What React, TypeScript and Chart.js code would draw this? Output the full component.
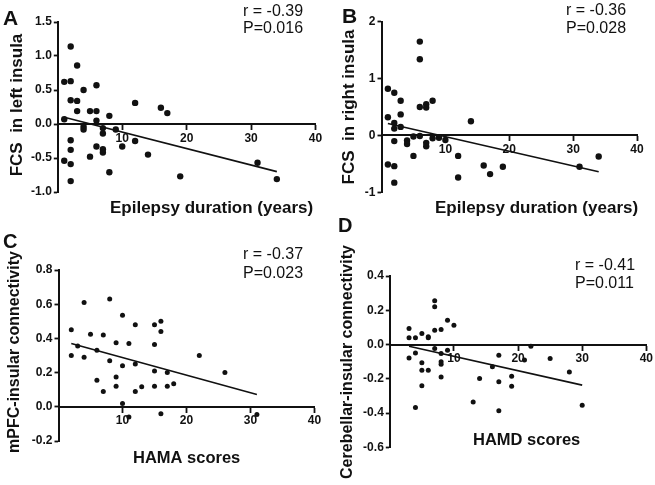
import React, { useEffect, useRef } from "react";
import { Chart, registerables } from "chart.js";

Chart.register(...registerables);

const FONT = "'Liberation Sans', Arial, Helvetica, sans-serif";
const INK = "#111111";

// ---------- Panel A: epilepsy duration vs FCS in left insula ----------
const aDuration = [1, 2, 2, 3, 1, 2, 3, 3, 4, 6, 5, 6, 6, 8, 4, 4, 7, 7, 9, 2, 2, 6, 7, 7, 10, 12, 12, 16, 17, 14, 5, 1, 2, 2, 8, 19, 31, 34];
const aFcsLeft = [0.62, 1.14, 0.63, 0.86, 0.07, 0.35, 0.34, 0.19, 0.5, 0.57, 0.19, 0.19, 0.05, 0.12, -0.04, -0.08, -0.06, -0.14, -0.08, -0.24, -0.38, -0.33, -0.37, -0.42, -0.33, -0.25, 0.31, 0.24, 0.16, -0.45, -0.48, -0.54, -0.59, -0.84, -0.71, -0.77, -0.57, -0.81];
const aFitX = [1, 34];
const aFitY = [0.1, -0.7];

// ---------- Panel B: epilepsy duration vs FCS in right insula ----------
const bDuration = [1, 1, 1, 2, 2, 2, 2, 2, 2, 3, 3, 3, 4, 4, 5, 5, 6, 6, 6, 6, 7, 7, 7, 7, 8, 8, 9, 10, 12, 12, 14, 16, 17, 19, 31, 34];
const bFcsRight = [0.82, 0.32, -0.51, 0.75, 0.22, 0.12, -0.1, -0.54, -0.83, 0.61, 0.37, 0.15, -0.09, -0.15, -0.02, -0.36, 1.65, 1.34, 0.5, -0.01, 0.55, 0.49, -0.13, -0.19, 0.61, -0.05, -0.04, -0.08, -0.36, -0.74, 0.25, -0.53, -0.68, -0.55, -0.55, -0.37];
const bFitX = [1, 34];
const bFitY = [0.21, -0.64];

// ---------- Panel C: HAMA scores vs mPFC-insular connectivity ----------
const cHama = [2, 2, 3, 4, 4, 5, 6, 6, 7, 7, 8, 8, 9, 9, 9, 10, 10, 10, 11, 11, 12, 12, 12, 13, 15, 15, 15, 15, 16, 16, 16, 17, 17, 18, 22, 26, 31];
const cMpfc = [0.45, 0.3, 0.355, 0.61, 0.29, 0.425, 0.33, 0.155, 0.42, 0.09, 0.63, 0.27, 0.375, 0.175, 0.12, 0.535, 0.24, 0.02, 0.37, -0.06, 0.48, 0.25, 0.09, 0.117, 0.48, 0.365, 0.21, 0.12, 0.5, 0.44, -0.04, 0.2, 0.12, 0.135, 0.3, 0.2, -0.045];
const cFitX = [2, 31];
const cFitY = [0.37, 0.072];

// ---------- Panel D: HAMD scores vs cerebellar-insular connectivity ----------
const dHamd = [3, 3, 3, 4, 4, 4, 5, 5, 5, 5, 6, 6, 6, 7, 7, 7, 7, 8, 8, 8, 8, 8, 9, 9, 10, 13, 14, 16, 17, 17, 17, 19, 19, 21, 22, 25, 28, 30];
const dCereb = [0.093, 0.039, -0.078, 0.039, -0.049, -0.368, 0.064, -0.107, -0.15, -0.241, 0.045, 0.039, -0.15, 0.255, 0.22, 0.084, -0.023, 0.088, -0.053, -0.1, -0.115, -0.19, 0.142, -0.033, 0.113, -0.335, -0.198, -0.13, -0.062, -0.218, -0.387, -0.185, -0.243, -0.091, -0.01, -0.082, -0.16, -0.354];
const dFitX = [3, 30];
const dFitY = [-0.01, -0.237];

// ---------- Tick values ----------
const xTickValues = [10, 20, 30, 40];
const aYTicks = [-1.0, -0.5, 0.0, 0.5, 1.0, 1.5];
const bYTicks = [-1, 0, 1, 2];
const cYTicks = [-0.2, 0.0, 0.2, 0.4, 0.6, 0.8];
const dYTicks = [-0.6, -0.4, -0.2, 0.0, 0.2, 0.4];

type TextItem = {
  text: string;
  x: number;
  y: number;
  size: number;
  bold?: boolean;
  align?: CanvasTextAlign;
  rotate?: number;
};

const panelTextPlugin = {
  id: "panelText",
  afterDraw(chart: any, _args: any, opts: any) {
    const ctx = chart.ctx as CanvasRenderingContext2D;
    const items: TextItem[] = opts.items || [];
    items.forEach((t) => {
      ctx.save();
      ctx.font = `${t.bold ? "bold" : "normal"} ${t.size}px ${FONT}`;
      ctx.fillStyle = INK;
      ctx.textAlign = t.align || "left";
      ctx.textBaseline = "middle";
      ctx.translate(t.x, t.y);
      if (t.rotate) ctx.rotate(t.rotate);
      ctx.fillText(t.text, 0, 0);
      ctx.restore();
    });
  },
};

type PanelSpec = {
  xs: number[];
  ys: number[];
  fitX: number[];
  fitY: number[];
  yTicks: number[];
  decimals: number;
  radius: number;
  padding: { left: number; right: number; top: number; bottom: number };
  texts: TextItem[];
};

const Y_BOX = 40;

function makeConfig(p: PanelSpec): any {
  const tickFont = { family: FONT, size: 12, weight: "bold" as const };
  return {
    type: "scatter",
    data: {
      datasets: [
        {
          type: "scatter",
          data: p.xs.map((x, i) => ({ x, y: p.ys[i] })),
          pointRadius: p.radius,
          pointHoverRadius: p.radius,
          backgroundColor: INK,
          borderColor: INK,
          borderWidth: 0,
        },
        {
          type: "line",
          data: p.fitX.map((x, i) => ({ x, y: p.fitY[i] })),
          borderColor: INK,
          borderWidth: 1.6,
          pointRadius: 0,
          fill: false,
          tension: 0,
        },
      ],
    },
    options: {
      animation: false,
      responsive: false,
      events: [],
      layout: { padding: p.padding },
      plugins: {
        legend: { display: false },
        tooltip: { enabled: false },
        panelText: { items: p.texts },
      },
      scales: {
        x: {
          type: "linear",
          position: { y: 0 },
          min: 0,
          max: 40,
          afterBuildTicks: (s: any) => {
            s.ticks = xTickValues.map((v) => ({ value: v }));
          },
          ticks: {
            font: tickFont,
            color: INK,
            padding: 2,
            maxRotation: 0,
            autoSkip: false,
            callback: (v: any) => String(v),
          },
          grid: {
            display: true,
            drawOnChartArea: false,
            drawTicks: true,
            tickLength: 5,
            tickWidth: 1.8,
            tickColor: INK,
          },
          border: { display: true, color: INK, width: 2 },
        },
        y: {
          type: "linear",
          position: "left",
          min: p.yTicks[0],
          max: p.yTicks[p.yTicks.length - 1],
          afterBuildTicks: (s: any) => {
            s.ticks = p.yTicks.map((v) => ({ value: v }));
          },
          afterFit: (s: any) => {
            s.width = Y_BOX;
          },
          ticks: {
            font: tickFont,
            color: INK,
            padding: 2,
            autoSkip: false,
            callback: (v: any) => Number(v).toFixed(p.decimals),
          },
          grid: {
            display: true,
            drawOnChartArea: false,
            drawTicks: true,
            tickLength: 4,
            tickWidth: 1.8,
            tickColor: INK,
          },
          border: { display: true, color: INK, width: 2 },
        },
      },
    },
    plugins: [panelTextPlugin],
  };
}

const W = 655;
const H = 485;
const ROT = -Math.PI / 2;

function area(left: number, right: number, top: number, bottom: number) {
  return { left: left - Y_BOX, right: W - right, top, bottom: H - bottom };
}

const panels: PanelSpec[] = [
  {
    xs: aDuration,
    ys: aFcsLeft,
    fitX: aFitX,
    fitY: aFitY,
    yTicks: aYTicks,
    decimals: 1,
    radius: 3.2,
    padding: area(57.8, 315.5, 22, 192),
    texts: [
      { text: "A", x: 3, y: 19.5, size: 21, bold: true },
      { text: "FCS  in left insula", x: 17.5, y: 105, size: 17, bold: true, align: "center", rotate: ROT },
      { text: "Epilepsy duration (years)", x: 110, y: 208, size: 17, bold: true },
      { text: "r = -0.39", x: 243, y: 12, size: 16 },
      { text: "P=0.016", x: 243, y: 29, size: 16 },
    ],
  },
  {
    xs: bDuration,
    ys: bFcsRight,
    fitX: bFitX,
    fitY: bFitY,
    yTicks: bYTicks,
    decimals: 0,
    radius: 3.2,
    padding: area(381.5, 637, 21.7, 192.3),
    texts: [
      { text: "B", x: 342, y: 17.5, size: 21, bold: true },
      { text: "FCS  in right insula", x: 349.5, y: 107, size: 17, bold: true, align: "center", rotate: ROT },
      { text: "Epilepsy duration (years)", x: 435, y: 208, size: 17, bold: true },
      { text: "r = -0.36", x: 566, y: 11, size: 16 },
      { text: "P=0.028", x: 566, y: 29, size: 16 },
    ],
  },
  {
    xs: cHama,
    ys: cMpfc,
    fitX: cFitX,
    fitY: cFitY,
    yTicks: cYTicks,
    decimals: 1,
    radius: 2.5,
    padding: area(58.5, 314.5, 270, 441),
    texts: [
      { text: "C", x: 3, y: 242.5, size: 20, bold: true },
      { text: "mPFC-insular connectivity", x: 15, y: 352, size: 16, bold: true, align: "center", rotate: ROT },
      { text: "HAMA scores", x: 133, y: 458, size: 16.5, bold: true },
      { text: "r = -0.37", x: 243, y: 255, size: 16 },
      { text: "P=0.023", x: 243, y: 274, size: 16 },
    ],
  },
  {
    xs: dHamd,
    ys: dCereb,
    fitX: dFitX,
    fitY: dFitY,
    yTicks: dYTicks,
    decimals: 1,
    radius: 2.5,
    padding: area(389.8, 646.7, 276, 447.3),
    texts: [
      { text: "D", x: 338, y: 226.5, size: 20, bold: true },
      { text: "Cerebellar-insular connectivity", x: 348, y: 362, size: 16, bold: true, align: "center", rotate: ROT },
      { text: "HAMD scores", x: 473, y: 440, size: 16.5, bold: true },
      { text: "r = -0.41", x: 575, y: 266, size: 16 },
      { text: "P=0.011", x: 575, y: 284, size: 16 },
    ],
  },
];

function Panel({ spec }: { spec: PanelSpec }) {
  const ref = useRef<HTMLCanvasElement | null>(null);
  useEffect(() => {
    if (!ref.current) return;
    const chart = new Chart(ref.current, makeConfig(spec));
    return () => chart.destroy();
  }, [spec]);
  return (
    <canvas
      ref={ref}
      width={W}
      height={H}
      style={{ position: "absolute", left: 0, top: 0, width: W, height: H }}
    />
  );
}

export default function App() {
  return (
    <div
      style={{
        position: "fixed",
        left: 0,
        top: 0,
        width: W,
        height: H,
        background: "#ffffff",
        overflow: "hidden",
      }}
    >
      {panels.map((p, i) => (
        <Panel key={i} spec={p} />
      ))}
    </div>
  );
}
